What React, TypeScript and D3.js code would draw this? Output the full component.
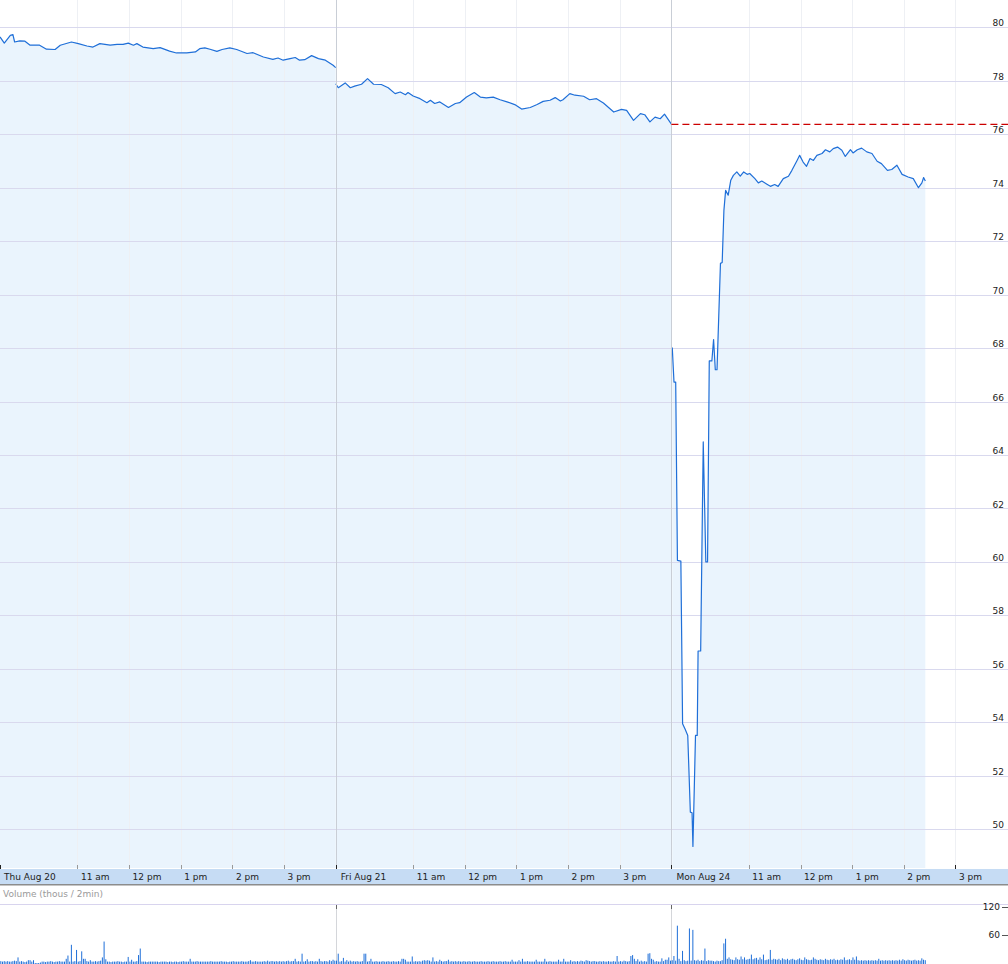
import React from "react";
import * as d3 from "d3";

const W = 1008;
const H = 964;

const yTickValues = [50, 52, 54, 56, 58, 60, 62, 64, 66, 68, 70, 72, 74, 76, 78, 80];
const dayLabels = ["Thu Aug 20", "Fri Aug 21", "Mon Aug 24"];
const hourTicks = [11, 12, 13, 14, 15];
const hourLabels = ["11 am", "12 pm", "1 pm", "2 pm", "3 pm"];
const volTickValues = [60, 120];
const prevClose = 76.37;
const minutesPerDay = 390;

// [minutes since 9:30 open, price]
const day1Prices: [number, number][] = [
  [0, 79.64], [5, 79.41], [12, 79.7], [15, 79.73], [17, 79.45], [23, 79.49], [29, 79.48], [35, 79.33],
  [46, 79.33], [54, 79.18], [64, 79.17], [70, 79.33], [83, 79.45], [91, 79.39], [101, 79.3], [108, 79.26],
  [116, 79.39], [128, 79.33], [136, 79.36], [143, 79.36], [149, 79.41], [155, 79.33], [159, 79.39],
  [166, 79.26], [178, 79.2], [186, 79.24], [197, 79.11], [205, 79.04], [217, 79.04], [227, 79.08],
  [232, 79.2], [238, 79.23], [244, 79.18], [252, 79.1], [258, 79.17], [267, 79.23], [275, 79.17],
  [287, 79.02], [294, 79.05], [306, 78.89], [317, 78.8], [323, 78.85], [329, 78.77], [337, 78.83],
  [343, 78.87], [348, 78.77], [354, 78.79], [362, 78.94], [370, 78.83], [378, 78.77], [387, 78.58],
  [390, 78.49],
];

const day2Prices: [number, number][] = [
  [0, 77.89], [3, 77.74], [11, 77.92], [17, 77.74], [22, 77.8], [30, 77.87], [37, 78.08], [44, 77.87],
  [53, 77.86], [61, 77.74], [69, 77.52], [75, 77.58], [81, 77.48], [84, 77.56], [90, 77.43], [98, 77.33],
  [106, 77.18], [110, 77.27], [115, 77.15], [121, 77.21], [131, 77.0], [139, 77.15], [144, 77.18],
  [152, 77.39], [161, 77.56], [168, 77.39], [175, 77.36], [183, 77.39], [191, 77.29], [199, 77.21],
  [208, 77.11], [216, 76.94], [226, 77.0], [234, 77.11], [241, 77.23], [249, 77.27], [255, 77.37],
  [261, 77.24], [264, 77.29], [272, 77.52], [278, 77.46], [288, 77.42], [295, 77.29], [303, 77.33],
  [311, 77.17], [323, 76.83], [332, 76.93], [338, 76.89], [346, 76.52], [354, 76.77], [359, 76.73],
  [365, 76.46], [371, 76.64], [377, 76.58], [382, 76.75], [390, 76.38],
];

const day3Prices: [number, number][] = [
  [1, 68.02], [3, 66.73], [5, 66.73], [7, 60.06], [11, 60.03], [13, 53.95], [16, 53.74], [19, 53.51],
  [22, 50.64], [24, 50.62], [25, 49.36], [28, 53.51], [30, 53.51], [31, 56.67], [34, 56.67], [37, 64.49],
  [40, 60.0], [42, 60.0], [44, 67.52], [47, 67.52], [49, 68.32], [51, 67.19], [53, 67.19], [57, 71.17],
  [59, 71.2], [61, 73.15], [63, 73.9], [66, 73.72], [69, 74.28], [72, 74.46], [76, 74.59], [80, 74.43],
  [84, 74.59], [88, 74.5], [91, 74.53], [97, 74.34], [101, 74.18], [105, 74.25], [111, 74.13],
  [115, 74.05], [120, 74.12], [124, 74.05], [130, 74.34], [136, 74.43], [140, 74.65], [146, 75.02],
  [149, 75.21], [153, 74.96], [157, 74.8], [161, 75.09], [165, 75.02], [169, 75.21], [175, 75.28],
  [179, 75.42], [184, 75.34], [188, 75.46], [193, 75.52], [198, 75.4], [202, 75.17], [208, 75.42],
  [211, 75.3], [216, 75.42], [221, 75.48], [227, 75.34], [233, 75.28], [239, 74.99], [244, 74.9],
  [251, 74.65], [256, 74.68], [262, 74.84], [268, 74.5], [275, 74.4], [281, 74.34], [287, 74.0],
  [291, 74.18], [293, 74.38], [295, 74.25],
];

// volume in thousands per 2-minute bar
const day1Volume = [
  4, 3, 4, 3, 4, 3, 3, 4, 5, 4,
  12, 3, 4, 3, 2, 3, 6, 6, 3, 6,
  0, 0, 0, 1, 3, 3, 2, 3, 3, 4,
  3, 2, 3, 3, 4, 3, 3, 3, 9, 16,
  3, 39, 3, 4, 28, 3, 4, 25, 9, 9,
  4, 3, 6, 3, 3, 4, 3, 4, 5, 12,
  46, 8, 3, 3, 2, 3, 3, 3, 4, 3,
  3, 2, 3, 3, 13, 3, 7, 3, 3, 4,
  17, 31, 3, 3, 3, 2, 3, 3, 3, 3,
  3, 3, 2, 3, 3, 3, 3, 2, 3, 3,
  2, 3, 3, 2, 3, 3, 4, 3, 3, 3,
  9, 3, 3, 3, 4, 3, 3, 3, 3, 3,
  3, 3, 4, 3, 3, 3, 3, 3, 4, 3,
  3, 3, 2, 3, 3, 4, 3, 3, 3, 3,
  4, 3, 3, 3, 4, 6, 3, 3, 4, 3,
  3, 3, 3, 4, 3, 5, 3, 4, 4, 3,
  4, 3, 4, 3, 4, 3, 4, 5, 3, 4,
  4, 9, 3, 4, 3, 20, 3, 4, 8, 3,
  4, 4, 3, 4, 3, 9, 4, 3, 4, 4,
  3, 6, 4, 7, 5,
];

const day2Volume = [
  5, 20, 3, 4, 11, 3, 6, 3, 5, 3,
  4, 3, 4, 3, 3, 4, 20, 20, 3, 4,
  9, 3, 3, 4, 3, 3, 3, 4, 3, 3,
  4, 3, 3, 4, 3, 3, 4, 3, 9, 9,
  7, 3, 3, 3, 14, 3, 4, 3, 4, 3,
  5, 6, 5, 6, 5, 3, 12, 3, 4, 3,
  7, 4, 3, 4, 4, 7, 3, 4, 3, 4,
  3, 4, 3, 3, 4, 3, 3, 4, 3, 3,
  4, 3, 3, 3, 4, 3, 3, 3, 4, 3,
  3, 4, 3, 3, 3, 4, 3, 3, 4, 3,
  3, 3, 7, 3, 3, 3, 6, 3, 9, 3,
  3, 4, 3, 3, 3, 3, 7, 3, 3, 3,
  3, 9, 3, 3, 4, 3, 3, 3, 3, 7,
  3, 3, 9, 3, 3, 3, 6, 3, 4, 3,
  4, 3, 5, 4, 3, 6, 5, 4, 3, 4,
  4, 3, 3, 4, 3, 4, 3, 3, 4, 3,
  3, 4, 3, 15, 3, 4, 3, 5, 4, 3,
  4, 15, 17, 9, 4, 8, 3, 5, 3, 4,
  3, 20, 21, 9, 7, 3, 4, 3, 3, 10,
  4, 7, 7, 12, 5,
];

const day3Volume = [
  6, 15, 5, 80, 9, 4, 26, 6, 4, 5,
  74, 5, 71, 6, 5, 7, 4, 6, 5, 31,
  4, 6, 5, 5, 4, 3, 5, 4, 4, 6,
  42, 52, 9, 12, 8, 7, 6, 12, 8, 7,
  14, 8, 12, 7, 8, 9, 18, 8, 10, 11,
  7, 12, 8, 18, 6, 7, 8, 28, 7, 9,
  8, 7, 9, 6, 10, 8, 7, 9, 6, 8,
  9, 7, 6, 8, 10, 7, 6, 12, 8, 7,
  6, 7, 12, 9, 7, 6, 8, 7, 6, 9,
  7, 6, 8, 7, 9, 6, 7, 6, 8, 7,
  12, 6, 7, 8, 6, 12, 7, 14, 6, 5,
  6, 5, 6, 5, 6, 5, 6, 5, 6, 5,
  9, 5, 6, 5, 6, 5, 6, 5, 6, 5,
  6, 5, 7, 5, 8, 6, 5, 7, 6, 5,
  6, 7, 5, 6, 5, 10, 7, 6,
];

const FONT = "'DejaVu Sans', Verdana, sans-serif";

export default function App() {
  const plotBottom = 868;
  const x = d3.scaleLinear().domain([0, 3 * minutesPerDay]).range([0, 1007.1]);
  const y = d3.scaleLinear().domain([50, 80]).range([829.3, 27.3]);
  const yv = d3.scaleLinear().domain([0, 120]).range([963, 907]);

  const days = [day1Prices, day2Prices, day3Prices];
  const daySeries: [number, number][][] = days.map((d, i) =>
    d.map(([m, p]) => [m + i * minutesPerDay, p] as [number, number])
  );
  const lineGen = d3
    .line<[number, number]>()
    .x((d) => x(d[0]))
    .y((d) => y(d[1]));
  const areaGen = d3
    .area<[number, number]>()
    .x((d) => x(d[0]))
    .y0(plotBottom)
    .y1((d) => y(d[1]));

  const vols = [day1Volume, day2Volume, day3Volume];
  const bars = vols.flatMap((arr, di) =>
    arr.map((v, i) => ({ t: di * minutesPerDay + i * 2, v }))
  );

  const hourTickData = [0, 1, 2].flatMap((di) =>
    hourTicks.map((h, hi) => ({
      t: di * minutesPerDay + (h - 9.5) * 60,
      label: hourLabels[hi],
    }))
  );
  const dayStarts = [0, 1, 2].map((di) => ({ t: di * minutesPerDay, label: dayLabels[di] }));

  return (
    <svg
      width={W}
      height={H}
      style={{ position: "absolute", left: 0, top: 0, background: "#fff" }}
      fontFamily={FONT}
    >
      {/* fill under price */}
      {daySeries.map((s, i) => (
        <path key={"ar" + i} d={areaGen(s) || ""} fill="#eaf4fd" />
      ))}

      {/* vertical hour gridlines */}
      {hourTickData.map((d, i) => (
        <line
          key={"vg" + i}
          x1={Math.round(x(d.t)) + 0.5}
          x2={Math.round(x(d.t)) + 0.5}
          y1={0}
          y2={plotBottom}
          stroke="#eef0f4"
          strokeWidth={1}
        />
      ))}

      {/* horizontal gridlines */}
      {yTickValues.map((v) => (
        <line
          key={"hg" + v}
          x1={0}
          x2={W}
          y1={Math.round(y(v)) + 0.5}
          y2={Math.round(y(v)) + 0.5}
          stroke="#d9d9ee"
          strokeWidth={1}
        />
      ))}

      {/* price lines */}
      {daySeries.map((s, i) => (
        <path
          key={"ln" + i}
          d={lineGen(s) || ""}
          fill="none"
          stroke="#1f6fd8"
          strokeWidth={1.2}
          strokeLinejoin="round"
        />
      ))}

      {/* day separators */}
      {dayStarts.slice(1).map((d, i) => (
        <line
          key={"ds" + i}
          x1={Math.round(x(d.t)) + 0.5}
          x2={Math.round(x(d.t)) + 0.5}
          y1={0}
          y2={plotBottom}
          stroke="#c9ced6"
          strokeWidth={1}
        />
      ))}

      {/* previous close */}
      <line
        x1={x(2 * minutesPerDay)}
        x2={W}
        y1={y(prevClose)}
        y2={y(prevClose)}
        stroke="#cc0000"
        strokeWidth={1.3}
        strokeDasharray="7,4"
      />

      {/* y labels */}
      {yTickValues.map((v) => (
        <text key={"yl" + v} x={1004} y={y(v) - 1} textAnchor="end" fontSize={9} fill="#222">
          {v}
        </text>
      ))}

      {/* x axis band */}
      <rect x={0} y={869} width={W} height={15} fill="#c6dcf4" />
      <line x1={0} x2={W} y1={884.75} y2={884.75} stroke="#8c8c8c" strokeWidth={1.5} />
      {hourTickData.map((d, i) => (
        <g key={"xt" + i}>
          <line
            x1={Math.round(x(d.t)) + 0.5}
            x2={Math.round(x(d.t)) + 0.5}
            y1={865}
            y2={869}
            stroke={x(d.t) > 930 ? "#222" : "#999"}
          />
          <text x={x(d.t) + 3.5} y={879.5} fontSize={9} fill="#222">
            {d.label}
          </text>
        </g>
      ))}
      {dayStarts.map((d, i) => (
        <g key={"dt" + i}>
          <line
            x1={Math.round(x(d.t)) + 0.5}
            x2={Math.round(x(d.t)) + 0.5}
            y1={865}
            y2={869}
            stroke="#222"
          />
          <text x={x(d.t) + (i === 0 ? 4 : 5)} y={879.5} fontSize={9} fill="#222">
            {d.label}
          </text>
        </g>
      ))}

      {/* volume panel */}
      <text x={3} y={896.5} fontSize={9} fill="#9a9a9a">
        Volume (thous / 2min)
      </text>
      <line x1={0} x2={W} y1={904.5} y2={904.5} stroke="#d8d4ee" strokeWidth={1} />
      {dayStarts.slice(1).map((d, i) => (
        <g key={"vds" + i}>
          <line
            x1={Math.round(x(d.t)) + 0.5}
            x2={Math.round(x(d.t)) + 0.5}
            y1={905}
            y2={H}
            stroke="#d4d6da"
          />
          <line
            x1={Math.round(x(d.t)) + 0.5}
            x2={Math.round(x(d.t)) + 0.5}
            y1={905}
            y2={909}
            stroke="#666"
          />
        </g>
      ))}
      {bars.map((b, i) => (
        <rect
          key={"vb" + i}
          x={x(b.t) + 0.3}
          y={yv(b.v)}
          width={1}
          height={Math.max(0, yv(0) - yv(b.v) + 1)}
          fill="#1f6fd8"
        />
      ))}
      {volTickValues.map((v) => (
        <g key={"vt" + v}>
          <text x={1000} y={yv(v) + 3} textAnchor="end" fontSize={9} fill="#222">
            {v}
          </text>
          <line x1={1002} x2={1008} y1={yv(v) + 0.5} y2={yv(v) + 0.5} stroke="#555" />
        </g>
      ))}
    </svg>
  );
}
